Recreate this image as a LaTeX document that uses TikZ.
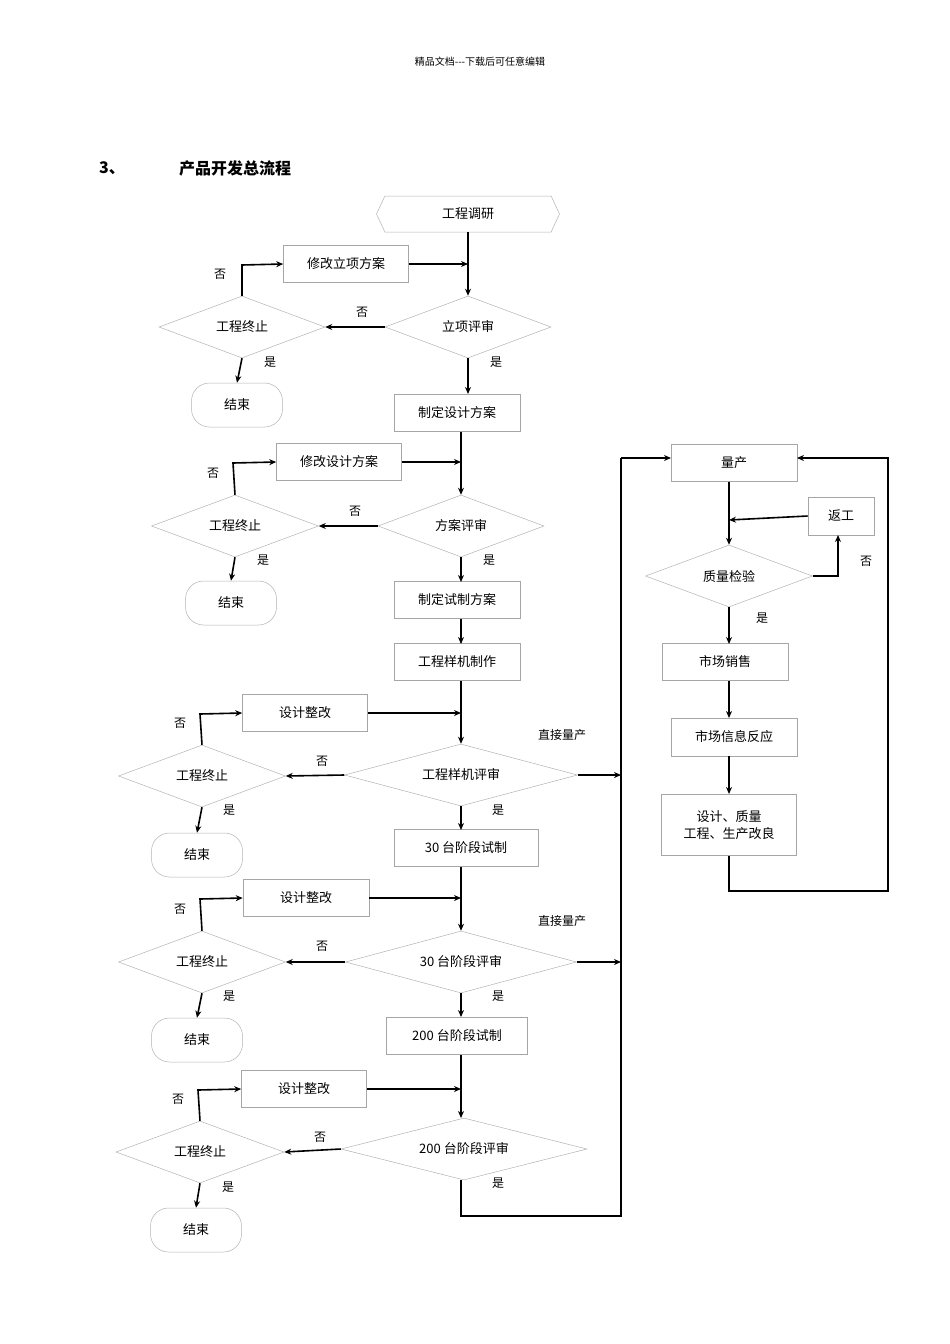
\documentclass[tikz,border=0pt]{standalone}
\usepackage{fontspec}
\setmainfont{Liberation Serif}
\newfontfamily\cjk{Noto Sans CJK SC}
\usetikzlibrary{shapes.geometric,shapes.symbols,arrows.meta}
\begin{document}
\begin{tikzpicture}[x=1pt,y=-1pt,
 every node/.style={font=\cjk\fontsize{13}{15}\selectfont},
 bx/.style={draw=gray!70,line width=0.6pt,minimum height=37pt,inner sep=1pt},
 dia/.style={draw=gray!60,line width=0.5pt,diamond,aspect=2.7,inner sep=0pt},
 endb/.style={draw=gray!60,line width=0.5pt,rounded corners=18pt,minimum width=91pt,minimum height=44pt},
 lb/.style={font=\cjk\fontsize{12}{14}\selectfont},
 ar/.style={line width=1.6pt,-{Stealth[length=7pt,width=6pt]}},
 ln/.style={line width=1.6pt}]
\useasboundingbox (0,0) rectangle (950,1344);
\node[font=\cjk\fontsize{10}{12}\selectfont] (hd) at (480,62) {精品文档---下载后可任意编辑};
\node[font=\cjk\bfseries\fontsize{16}{19}\selectfont] (t1) at (112,168) {3、};
\node[font=\cjk\bfseries\fontsize{16}{19}\selectfont] (t2) at (235,168) {产品开发总流程};
% stage 1
\node[draw=gray!60,line width=0.5pt,inner sep=0pt,shape=signal,signal to=west and east,minimum width=183pt,minimum height=36pt,signal pointer angle=130] (dy) at (468,214) {工程调研};
\node[bx,minimum width=125pt] (m1) at (346,264) {修改立项方案};
\node[dia,minimum width=166pt,minimum height=62pt] (r1) at (468,327) {立项评审};
\node[dia,minimum width=166pt,minimum height=62pt] (s1) at (242,327) {工程终止};
\node[endb] (e1) at (237,405) {结束};
\node[bx,minimum width=126pt] (p1) at (457,413) {制定设计方案};
\coordinate (c1) at (468,264);
\draw[ar] (dy.south) -- (r1.north);
\draw[ar] (m1.east) -- (c1);
\draw[ar] (r1.west) -- (s1.east);
\draw[ar] (s1.north) -- (242,265) -- (m1.west);
\draw[ar] (s1.south) -- (e1.north);
\draw[ar] (r1.south) -- (468,394);
\node[lb] (n1a) at (220,274) {否}; \node[lb] (n1b) at (362,312) {否};
\node[lb] (y1a) at (270,362) {是}; \node[lb] (y1b) at (496,362) {是};
% stage 2
\node[bx,minimum width=125pt] (m2) at (339,462) {修改设计方案};
\node[dia,minimum width=166pt,minimum height=62pt] (r2) at (461,526) {方案评审};
\node[dia,minimum width=167pt,minimum height=62pt] (s2) at (235,526) {工程终止};
\node[endb] (e2) at (231,603) {结束};
\node[bx,minimum width=126pt] (p2) at (457,600) {制定试制方案};
\node[bx,minimum width=126pt] (p3) at (457,662) {工程样机制作};
\coordinate (c2) at (461,462);
\draw[ar] (461,432) -- (r2.north);
\draw[ar] (m2.east) -- (c2);
\draw[ar] (r2.west) -- (s2.east);
\draw[ar] (s2.north) -- (233,463) -- (m2.west);
\draw[ar] (s2.south) -- (e2.north);
\draw[ar] (r2.south) -- (461,582);
\draw[ar] (461,619) -- (461,644);
\node[lb] (n2a) at (213,473) {否}; \node[lb] (n2b) at (355,511) {否};
\node[lb] (y2a) at (263,560) {是}; \node[lb] (y2b) at (489,560) {是};
% stage 3
\node[bx,minimum width=125pt] (m3) at (305,713) {设计整改};
\node[dia,minimum width=233pt,minimum height=62pt] (r3) at (461,775) {工程样机评审};
\node[dia,minimum width=167pt,minimum height=62pt] (s3) at (202,776) {工程终止};
\node[endb] (e3) at (197,855) {结束};
\node[bx,minimum width=144pt] (p4) at (466,848) {30 台阶段试制};
\coordinate (c3) at (461,713);
\draw[ar] (461,681) -- (r3.north);
\draw[ar] (m3.east) -- (c3);
\draw[ar] (r3.west) -- (s3.east);
\draw[ar] (s3.north) -- (200,714) -- (m3.west);
\draw[ar] (s3.south) -- (e3.north);
\draw[ar] (r3.south) -- (461,830);
\node[lb] (n3a) at (180,723) {否}; \node[lb] (n3b) at (322,761) {否};
\node[lb] (y3a) at (229,810) {是}; \node[lb] (y3b) at (498,810) {是};
\node[lb] (d3) at (562,735) {直接量产};
% stage 4
\node[bx,minimum width=126pt] (m4) at (306,898) {设计整改};
\node[dia,minimum width=231pt,minimum height=62pt] (r4) at (461,962) {30 台阶段评审};
\node[dia,minimum width=167pt,minimum height=62pt] (s4) at (202,962) {工程终止};
\node[endb] (e4) at (197,1040) {结束};
\node[bx,minimum width=141pt] (p5) at (457,1036) {200 台阶段试制};
\coordinate (c4) at (461,898);
\draw[ar] (461,867) -- (r4.north);
\draw[ar] (m4.east) -- (c4);
\draw[ar] (r4.west) -- (s4.east);
\draw[ar] (s4.north) -- (200,899) -- (m4.west);
\draw[ar] (s4.south) -- (e4.north);
\draw[ar] (r4.south) -- (461,1017);
\node[lb] (n4a) at (180,909) {否}; \node[lb] (n4b) at (322,946) {否};
\node[lb] (y4a) at (229,996) {是}; \node[lb] (y4b) at (498,996) {是};
\node[lb] (d4) at (562,921) {直接量产};
% stage 5
\node[bx,minimum width=125pt] (m5) at (304,1089) {设计整改};
\node[dia,minimum width=246pt,minimum height=62pt] (r5) at (464,1149) {200 台阶段评审};
\node[dia,minimum width=168pt,minimum height=62pt] (s5) at (200,1152) {工程终止};
\node[endb] (e5) at (196,1230) {结束};
\coordinate (c5) at (461,1089);
\draw[ar] (461,1055) -- (461,1118);
\draw[ar] (m5.east) -- (c5);
\draw[ar] (r5.west) -- (s5.east);
\draw[ar] (s5.north) -- (198,1090) -- (m5.west);
\draw[ar] (s5.south) -- (e5.north);
\node[lb] (n5a) at (178,1099) {否}; \node[lb] (n5b) at (320,1137) {否};
\node[lb] (y5a) at (228,1187) {是}; \node[lb] (y5b) at (498,1183) {是};
% right side
\node[bx,minimum width=126pt] (q1) at (734,463) {量产};
\node[bx,minimum width=66pt,minimum height=38pt] (fg) at (841,516) {返工};
\node[dia,minimum width=167pt,minimum height=62pt] (qc) at (729,576) {质量检验};
\node[bx,minimum width=126pt] (q2) at (725,662) {市场销售};
\node[bx,minimum width=126pt,minimum height=38pt] (q3) at (734,737) {市场信息反应};
\node[bx,minimum width=135pt,minimum height=61pt,align=center,font=\cjk\fontsize{13}{17}\selectfont] (q4) at (729,825) {设计、质量\\工程、生产改良};
\node[lb] (n6) at (866,561) {否}; \node[lb] (y6) at (762,618) {是};
\coordinate (k1) at (621,775);
\coordinate (k2) at (621,962);
\coordinate (k0) at (621,458);
\draw[ln] (461,1180) -- (461,1216) -- (621,1216) -- (k0);
\draw[ar] (k0) -- (671,458);
\draw[ar] (r3.east) -- (k1);
\draw[ar] (r4.east) -- (k2);
\draw[ar] (q4.south) -- (729,891) -- (888,891) -- (888,458) -- (797,458);
\draw[ar] (729,482) -- (qc.north);
\draw[ar] (fg.west) -- (729,520);
\draw[ar] (qc.east) -- (838,576) -- (838,535);
\draw[ar] (qc.south) -- (729,644);
\draw[ar] (729,681) -- (729,718);
\draw[ar] (729,756) -- (729,794);
\end{tikzpicture}
\end{document}
